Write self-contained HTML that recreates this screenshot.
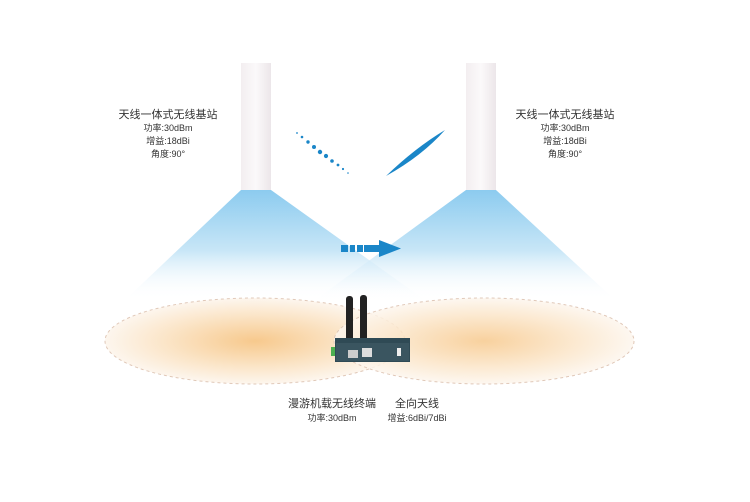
<!DOCTYPE html>
<html><head><meta charset="utf-8"><style>
body{margin:0;background:#fff;}
svg text{font-family:"Liberation Sans","Noto Sans CJK SC",sans-serif;fill:#333;}
</style></head><body>
<svg width="750" height="497" viewBox="0 0 750 497" xmlns="http://www.w3.org/2000/svg">
<defs>
<linearGradient id="beam" x1="0" y1="0" x2="0" y2="1">
<stop offset="0" stop-color="#8ccbef"/><stop offset="0.55" stop-color="#c8e6f7"/><stop offset="1" stop-color="#fff" stop-opacity="0"/></linearGradient>
<linearGradient id="ant" x1="0" y1="0" x2="1" y2="0">
<stop offset="0" stop-color="#f3eef0"/><stop offset="0.5" stop-color="#fbf9fa"/><stop offset="1" stop-color="#ece6e9"/></linearGradient>
<radialGradient id="glow" cx="0.5" cy="0.5" r="0.5">
<stop offset="0" stop-color="#f7c98d"/><stop offset="0.6" stop-color="#fbe5c8"/><stop offset="1" stop-color="#fdf6ee"/></radialGradient>
</defs>
<ellipse cx="255" cy="341" rx="150" ry="43" fill="url(#glow)" stroke="#e0c8b8" stroke-dasharray="3,3"/>
<ellipse cx="484" cy="341" rx="150" ry="43" fill="url(#glow)" fill-opacity="0.85" stroke="#e0c8b8" stroke-dasharray="3,3"/>
<polygon points="241,190 271,190 425,300 125,300" fill="url(#beam)"/>
<polygon points="466,190 496,190 615,300 315,300" fill="url(#beam)"/>
<rect x="241" y="63" width="30" height="127" fill="url(#ant)"/>
<rect x="466" y="63" width="30" height="127" fill="url(#ant)"/>
<g fill="#1a86c8">
<circle cx="297" cy="133" r="0.9"/><circle cx="302" cy="137" r="1.3"/><circle cx="308" cy="142" r="1.7"/><circle cx="314" cy="147" r="2"/><circle cx="320" cy="152" r="2.2"/><circle cx="326" cy="156" r="2.1"/><circle cx="332" cy="161" r="1.8"/><circle cx="338" cy="165" r="1.4"/><circle cx="343" cy="169" r="1.1"/><circle cx="348" cy="173" r="0.8"/>
<path d="M445,130 Q415,148 386,176 Q422,156 445,130Z"/>
<rect x="341" y="245" width="7" height="7"/><rect x="350" y="245" width="5" height="7"/><rect x="357" y="245" width="6" height="7"/><rect x="364" y="245" width="17" height="7"/>
<polygon points="379,240 401,248.5 379,257"/>
</g>
<rect x="346" y="296" width="7" height="46" rx="3" fill="#222"/>
<rect x="360" y="295" width="7" height="47" rx="3" fill="#222"/>
<rect x="331" y="347" width="5" height="9" fill="#4caf50"/>
<rect x="335" y="338" width="75" height="24" fill="#2f4a55"/>
<rect x="336" y="343" width="73" height="18" fill="#3a5560"/>
<rect x="348" y="350" width="10" height="8" fill="#ccc"/>
<rect x="362" y="348" width="10" height="9" fill="#ddd"/>
<rect x="397" y="348" width="4" height="8" fill="#eee"/>
<text x="168" y="118" font-size="11" text-anchor="middle">天线一体式无线基站</text>
<text x="168" y="131" font-size="9" text-anchor="middle">功率:30dBm</text>
<text x="168" y="144" font-size="9" text-anchor="middle">增益:18dBi</text>
<text x="168" y="157" font-size="9" text-anchor="middle">角度:90°</text>
<text x="565" y="118" font-size="11" text-anchor="middle">天线一体式无线基站</text>
<text x="565" y="131" font-size="9" text-anchor="middle">功率:30dBm</text>
<text x="565" y="144" font-size="9" text-anchor="middle">增益:18dBi</text>
<text x="565" y="157" font-size="9" text-anchor="middle">角度:90°</text>
<text x="332" y="407" font-size="11" text-anchor="middle">漫游机载无线终端</text>
<text x="332" y="421" font-size="9" text-anchor="middle">功率:30dBm</text>
<text x="417" y="407" font-size="11" text-anchor="middle">全向天线</text>
<text x="417" y="421" font-size="9" text-anchor="middle">增益:6dBi/7dBi</text>
</svg>
</body></html>
